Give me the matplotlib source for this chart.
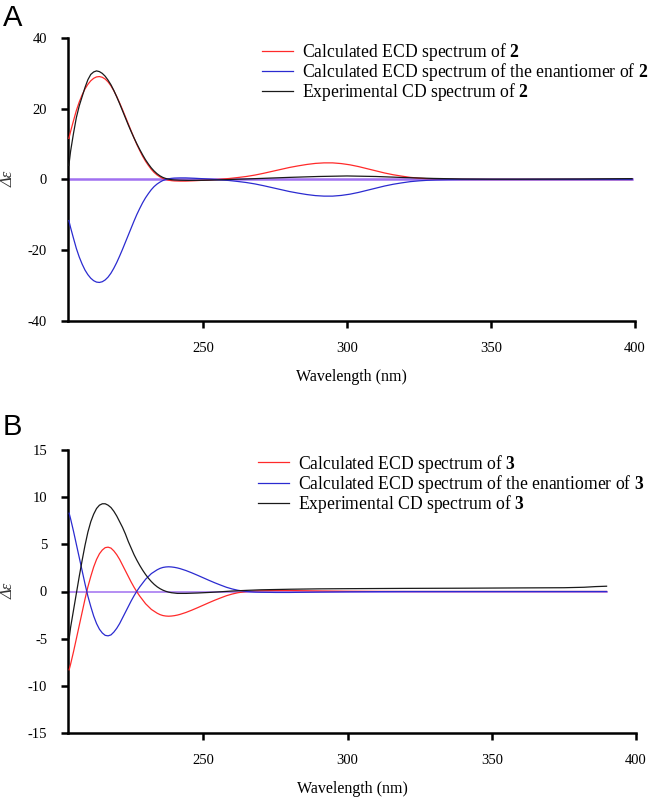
import matplotlib
matplotlib.use("Agg")
import matplotlib.pyplot as plt

plt.rcParams['font.family'] = ['Liberation Serif', 'DejaVu Serif']
plt.rcParams['mathtext.fontset'] = 'custom'
plt.rcParams['mathtext.rm'] = 'Liberation Serif'
plt.rcParams['mathtext.it'] = 'Liberation Serif:italic'
plt.rcParams['mathtext.bf'] = 'Liberation Serif:bold'
plt.rcParams['axes.unicode_minus'] = False

# ---------------- Panel A data (compound 2) ----------------
wl_a = [203.4, 204, 205, 206, 207, 208, 209, 210, 211, 212, 213, 214, 215, 216, 217,
        218, 219, 220, 221, 222, 223, 224, 225, 226, 227, 228, 229, 230, 231, 232,
        233, 234, 235, 236, 237, 238, 239, 240, 242, 244, 247, 250, 253, 256, 259,
        262, 265, 268, 271, 274, 277, 280, 283, 286, 289, 292, 295, 298, 301, 304,
        307, 310, 313, 316, 319, 322, 325, 328, 331, 335, 340, 350, 399]
calc_a = [11.6, 13.6, 16.6, 19.5, 21.9, 23.9, 25.6, 26.9, 27.9, 28.6, 29.0, 29.1, 28.9,
          28.4, 27.6, 26.5, 25.1, 23.5, 21.7, 19.8, 17.8, 15.8, 13.8, 11.8, 9.9, 8.2,
          6.6, 5.2, 4.0, 2.9, 2.0, 1.3, 0.75, 0.3, 0.0, -0.2, -0.32, -0.4, -0.45, -0.45,
          -0.35, -0.22, -0.08, 0.08, 0.28, 0.55, 0.85, 1.25, 1.75, 2.3, 2.85, 3.4, 3.85,
          4.25, 4.55, 4.7, 4.7, 4.5, 4.15, 3.65, 3.05, 2.45, 1.85, 1.35, 0.95, 0.6, 0.38,
          0.22, 0.12, 0.05, 0.01, 0.0, 0.0]
enan_a = [-v for v in calc_a]
wl_a_exp = [203.4, 204, 205, 206, 207, 208, 209, 210, 211, 212, 213, 214, 215, 216,
            217, 218, 219, 220, 221, 222, 223, 224, 225, 226, 227, 228, 229, 230, 231,
            232, 233, 234, 235, 236, 237, 238, 239, 240, 242, 245, 250, 255, 260, 265,
            270, 280, 290, 300, 310, 320, 330, 340, 350, 360, 380, 399]
exp_a = [4.0, 8.0, 13.0, 17.5, 20.8, 23.4, 26.0, 28.2, 29.7, 30.4, 30.7, 30.5, 30.0,
         29.2, 28.1, 26.8, 25.2, 23.4, 21.5, 19.5, 17.5, 15.5, 13.6, 11.8, 10.1, 8.5,
         7.0, 5.6, 4.4, 3.3, 2.4, 1.65, 1.05, 0.6, 0.3, 0.1, -0.05, -0.12, -0.2, -0.25,
         -0.22, -0.12, 0.02, 0.15, 0.3, 0.6, 0.85, 1.0, 0.85, 0.55, 0.3, 0.15, 0.1, 0.1,
         0.15, 0.25]

# ---------------- Panel B data (compound 3) ----------------
wl_b = [203.5, 204, 205, 206, 207, 208, 209, 210, 211, 212, 213, 214, 215, 216, 217,
        218, 219, 220, 221, 222, 223, 224, 225, 226, 227, 228, 229, 230, 231, 232,
        233, 234, 235, 236, 237, 238, 239, 240, 241, 242, 244, 246, 248, 250, 252,
        254, 256, 258, 260, 262, 264, 266, 268, 270, 275, 280, 290, 300, 320, 350,
        389.8]
calc_b = [-8.3, -7.7, -6.4, -5.0, -3.6, -2.2, -0.8, 0.5, 1.6, 2.6, 3.4, 4.0, 4.4, 4.65,
          4.7, 4.6, 4.3, 3.9, 3.4, 2.8, 2.2, 1.6, 1.0, 0.45, -0.05, -0.5, -0.9, -1.3,
          -1.6, -1.9, -2.1, -2.3, -2.45, -2.55, -2.6, -2.62, -2.6, -2.56, -2.5, -2.42,
          -2.22, -1.98, -1.72, -1.45, -1.18, -0.92, -0.68, -0.45, -0.27, -0.13, -0.04,
          0.02, 0.06, 0.08, 0.1, 0.1, 0.06, 0.03, 0.0, 0.0, 0.0]
enan_b = [-v for v in calc_b]
wl_b_exp = [203.5, 204, 205, 206, 207, 208, 209, 210, 211, 212, 213, 214, 215, 216,
            217, 218, 219, 220, 221, 222, 223, 224, 225, 226, 227, 228, 229, 230, 231,
            232, 233, 234, 235, 236, 237, 238, 239, 241, 244, 248, 252, 256, 260, 265,
            270, 280, 290, 300, 320, 340, 360, 375, 382, 386, 389.8]
exp_b = [-5.0, -3.8, -2.0, -0.2, 1.6, 3.3, 4.9, 6.3, 7.4, 8.2, 8.8, 9.15, 9.3, 9.3,
         9.15, 8.9, 8.5, 8.0, 7.4, 6.8, 6.1, 5.3, 4.6, 3.9, 3.3, 2.75, 2.25, 1.8, 1.4,
         1.05, 0.75, 0.5, 0.3, 0.14, 0.02, -0.07, -0.13, -0.2, -0.2, -0.16, -0.1, -0.03,
         0.05, 0.12, 0.18, 0.24, 0.28, 0.3, 0.33, 0.35, 0.38, 0.4, 0.45, 0.52, 0.56]

xticks = [250, 300, 350, 400]
yticks_a = [-40, -20, 0, 20, 40]
yticks_b = [-15, -10, -5, 0, 5, 10, 15]

RED = '#ff2a2a'
BLUE = '#2b2bd0'
BLACK = '#1a1a1a'
PURPLE = '#a070f0'

fig = plt.figure(figsize=(6.5, 7.99), dpi=100)


def style(ax, yticks, ylim):
    ax.set_xlim(203.1, 400)
    ax.set_ylim(*ylim)
    ax.set_xticks(xticks)
    ax.set_yticks(yticks)
    for s in ['top', 'right']:
        ax.spines[s].set_visible(False)
    for s in ['left', 'bottom']:
        ax.spines[s].set_linewidth(1.8)
    ax.tick_params(direction='out', length=5, width=1.8, labelsize=10.5, pad=10)
    ax.set_xlabel('Wavelength (nm)', fontsize=11.5, labelpad=10)


def draw(ax, wl, calc, enan, wlx, expv, num, xend, zlw):
    ax.plot([203.1, xend], [0, 0], color=PURPLE, lw=zlw, zorder=1)
    ax.plot(wl, calc, color=RED, lw=0.9, zorder=3,
            label=r'Calculated ECD spectrum of $\mathbf{%s}$' % num)
    ax.plot(wl, enan, color=BLUE, lw=0.9, zorder=3,
            label=r'Calculated ECD spectrum of the enantiomer of $\mathbf{%s}$' % num)
    ax.plot(wlx, expv, color=BLACK, lw=0.9, zorder=4,
            label=r'Experimental CD spectrum of $\mathbf{%s}$' % num)


legend_kw = dict(loc='upper left', frameon=False, fontsize=12.7, handlelength=1.75,
                 handletextpad=0.5, labelspacing=-0.1, borderpad=0, borderaxespad=0)

axA = fig.add_axes([68 / 650, 1 - 321 / 799, 567 / 650, 283 / 799])
draw(axA, wl_a, calc_a, enan_a, wl_a_exp, exp_a, '2', 399, 1.8)
style(axA, yticks_a, (-40, 40))
axA.legend(bbox_to_anchor=(0.342, 0.99), **legend_kw)

axB = fig.add_axes([68 / 650, 1 - 733 / 799, 568 / 650, 283 / 799])
draw(axB, wl_b, calc_b, enan_b, wl_b_exp, exp_b, '3', 389.8, 1.1)
style(axB, yticks_b, (-15, 15))
axB.legend(bbox_to_anchor=(0.3345, 0.991), **legend_kw)

for yc in (179, 591):
    fig.text(9 / 650, 1 - yc / 799, 'Δε', fontsize=12, fontstyle='italic',
             rotation=90, ha='center', va='center', color='#333333')

fig.text(3 / 650, 1 - 26 / 799, 'A', fontsize=21, family='Liberation Sans')
fig.text(3 / 650, 1 - 435 / 799, 'B', fontsize=21, family='Liberation Sans')

fig.savefig('out.png', dpi=100)
